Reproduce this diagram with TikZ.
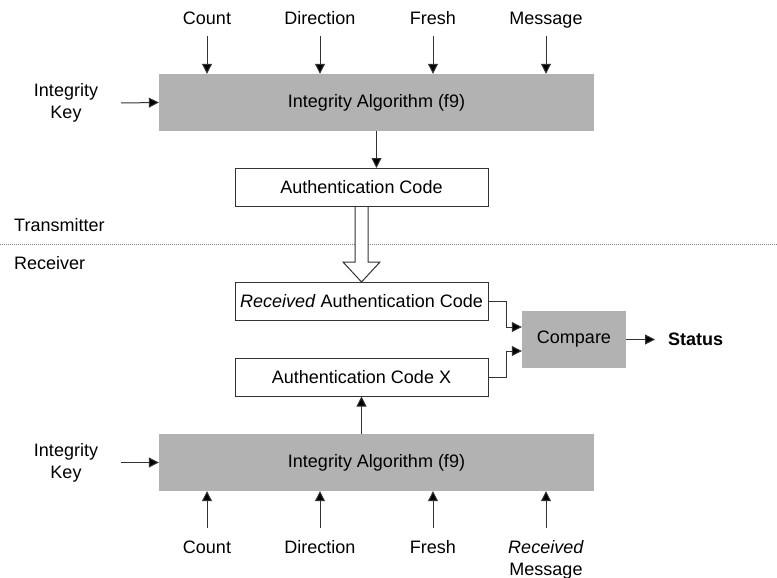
\documentclass[tikz,border=0pt]{standalone}
\usepackage{fontspec}
\setmainfont{Liberation Sans}
\usetikzlibrary{arrows.meta,calc}
\definecolor{algfill}{HTML}{B2B2B2}
\definecolor{boxline}{HTML}{333333}
\definecolor{linecol}{HTML}{333333}
\definecolor{sepline}{HTML}{808080}
\begin{document}
\begin{tikzpicture}[x=1pt,y=-1pt,
  font=\fontsize{18}{22}\selectfont,
  every node/.style={inner sep=0pt},
  algbox/.style={fill=algfill, minimum width=435pt, minimum height=57pt},
  codebox/.style={draw=boxline, line width=1pt, fill=white, minimum width=253pt, minimum height=38pt},
  cmpbox/.style={fill=algfill, minimum width=104pt, minimum height=57pt},
  arr/.style={draw=linecol, line width=1pt, -{Triangle[length=10pt,width=10pt,fill=black]}},
  toplabel/.style={anchor=base, text depth=0pt, outer ysep=11pt},
  botlabel/.style={anchor=north, text height=13pt, text depth=0pt, outer ysep=12.5pt},
  keylabel/.style={align=center, minimum width=110pt},
]
\useasboundingbox (0,0) rectangle (777,578);

% ---------- transmitter side ----------
\node[algbox] (alg1) at (376.5,102.5) {Integrity Algorithm (f9)};
\node[toplabel] (tc) at (207,25) {Count};
\node[toplabel] (td) at (320,25) {Direction};
\node[toplabel] (tf) at (433,25) {Fresh};
\node[toplabel] (tm) at (546,25) {Message};
\node[keylabel] (key1) at (66,103) {Integrity\\Key};

\foreach \n in {tc,td,tf,tm}
  \draw[arr] (\n.south) -- (\n.south |- alg1.north);
\draw[arr] (key1.east) -- (alg1.west);

\node[codebox] (ac) at (361.5,187.5) {Authentication Code};
\draw[arr] (alg1.south) -- (alg1.south |- ac.north);

% separator between the two sides
\node[anchor=west] (tx) at (14,225) {Transmitter};
\node[anchor=west] (rx) at (14,263) {Receiver};
\coordinate (sepL) at (0,244);
\coordinate (sepR) at (777,244);
\draw[sepline, line width=0.8pt, dash pattern=on 1pt off 1pt] (sepL) -- (sepR);

% ---------- receiver side ----------
\node[codebox] (rac) at (361.5,301.5) {\textit{Received} Authentication Code};
\node[codebox] (ax) at (361.5,377) {Authentication Code X};
\node[cmpbox] (cmp) at (574,339.5) {Compare};
\node[anchor=west, inner xsep=13pt, font=\fontsize{18}{22}\selectfont\bfseries] (st) at (655,339.5) {Status};

% hollow transfer arrow
\draw[draw=boxline, line width=1pt, fill=white, line join=miter]
  ($(ac.south)+(-6.5,0)$) -- ($(ac.south)+(-6.5,55)$) -- ($(ac.south)+(-18.5,55)$)
  -- (ac.south |- rac.north) -- ($(ac.south)+(18.5,55)$) -- ($(ac.south)+(6.5,55)$)
  -- ($(ac.south)+(6.5,0)$);

\draw[arr] (rac.east) -- ++(18,0) |- ([yshift=12.5pt]cmp.west);
\draw[arr] (ax.east) -- ++(18,0) |- ([yshift=-11.5pt]cmp.west);
\draw[arr] (cmp.east) -- (st.west);

\node[algbox] (alg2) at (376.5,462.5) {Integrity Algorithm (f9)};
\draw[arr] (ax.south |- alg2.north) -- (ax.south);
\node[keylabel] (key2) at (66,462.5) {Integrity\\Key};
\draw[arr] (key2.east) -- (alg2.west);

\node[botlabel] (bc) at (207,528) {Count};
\node[botlabel] (bd) at (320,528) {Direction};
\node[botlabel] (bf) at (433,528) {Fresh};
\node[anchor=north, align=center, outer ysep=12.5pt] (bm) at (546,528) {\textit{Received}\\Message};
\foreach \n in {bc,bd,bf,bm}
  \draw[arr] (\n.north) -- (\n.north |- alg2.south);
\end{tikzpicture}
\end{document}
